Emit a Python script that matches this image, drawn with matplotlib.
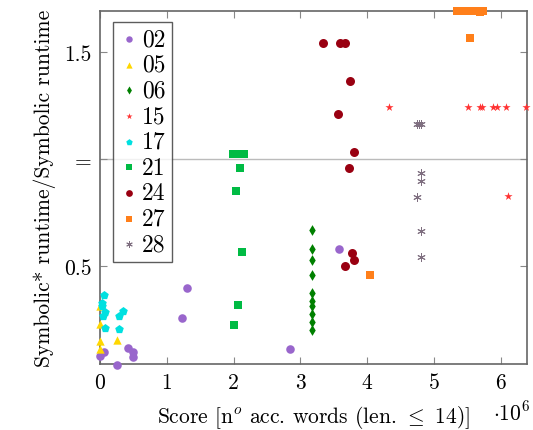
import numpy as np
import matplotlib
matplotlib.use("Agg")
import matplotlib.pyplot as plt

plt.rcParams['font.family'] = 'serif'
plt.rcParams['font.serif'] = ['cmr10', 'DejaVu Serif']
plt.rcParams['mathtext.fontset'] = 'cm'
plt.rcParams['axes.formatter.use_mathtext'] = True

# data (x in millions of words, y = runtime ratio)
x02 = [1.30, 1.23, 2.85, 0.42, 0.49, 0.50, 0.065, 0.0, 0.25, 3.58]
y02 = [0.398, 0.258, 0.115, 0.121, 0.100, 0.076, 0.099, 0.080, 0.041, 0.580]

x05 = [0.0, 0.0, 0.0, 0.0, 0.25]
y05 = [0.317, 0.231, 0.153, 0.114, 0.158]

x06 = [3.18] * 10
y06 = [0.67, 0.58, 0.53, 0.46, 0.376, 0.337, 0.317, 0.277, 0.239, 0.203]

x15 = [4.32, 5.50, 5.69, 5.71, 5.88, 5.94, 6.07, 6.38, 6.10]
y15 = [1.247, 1.247, 1.247, 1.247, 1.247, 1.247, 1.247, 1.247, 0.83]

x17 = [0.065, 0.03, 0.03, 0.075, 0.05, 0.345, 0.28, 0.075, 0.29]
y17 = [0.367, 0.330, 0.317, 0.289, 0.270, 0.290, 0.269, 0.214, 0.206]

x21 = [1.99, 2.03, 2.07, 2.11, 2.15, 2.09, 2.04, 2.12, 2.06, 2.01]
y21 = [1.027, 1.027, 1.027, 1.027, 1.027, 0.962, 0.851, 0.569, 0.320, 0.228]

x24 = [3.34, 3.59, 3.67, 3.74, 3.56, 3.80, 3.72, 3.77, 3.80, 3.66]
y24 = [1.546, 1.546, 1.546, 1.365, 1.211, 1.036, 0.962, 0.562, 0.530, 0.504]

x27 = [5.34, 5.40, 5.46, 5.52, 5.58, 5.63, 5.73, 5.68, 5.54, 4.04]
y27 = [1.694, 1.694, 1.694, 1.694, 1.694, 1.694, 1.694, 1.688, 1.570, 0.459]

x28 = [4.74, 4.77, 4.81, 4.80, 4.80, 4.75, 4.81, 4.80]
y28 = [1.167, 1.167, 1.167, 0.937, 0.900, 0.823, 0.666, 0.543]

series = [
    ("02", x02, y02, 'o', '#9966CC', 38),
    ("05", x05, y05, '^', '#FFD700', 36),
    ("06", x06, y06, 'd', '#008000', 30),
    ("15", x15, y15, '*', '#FF3333', 38),
    ("17", x17, y17, 'p', '#00E0E0', 42),
    ("21", x21, y21, 's', '#00BB44', 38),
    ("24", x24, y24, 'o', '#990011', 42),
    ("27", x27, y27, 's', '#FF7F1A', 40),
    ("28", x28, y28, (6, 2, 0), '#7F6F80', 30),
]

fig = plt.figure(figsize=(5.33, 4.31), dpi=100)
ax = fig.add_axes([0.1876, 0.1531, 0.8011, 0.8191])

ax.axhline(1.0, color='#bbbbbb', lw=1.0, zorder=1)

for name, xs, ys, m, c, s in series:
    ax.scatter(xs, ys, marker=m, s=s, color=c, label=name,
               linewidths=0.7 if m == (6, 2, 0) else 0, zorder=3, clip_on=False)

ax.set_xlim(0, 6.39)
ax.set_ylim(0.044, 1.694)
ax.set_xticks([0, 1, 2, 3, 4, 5, 6])
ax.set_xticklabels(['0', '1', '2', '3', '4', '5', '6'])
ax.set_yticks([0.5, 1.0, 1.5])
ax.set_yticklabels(['0.5', '=', '1.5'])

ax.tick_params(direction='in', top=True, right=True, length=5,
               color='#888888', labelsize=15.5, pad=6)
for sp in ax.spines.values():
    sp.set_color('#666666')
    sp.set_linewidth(1.2)

ax.set_xlabel(r"Score [n$^o$ acc. words (len. $\leq$ 14)]", fontsize=15.5, labelpad=8)
ax.set_ylabel("Symbolic* runtime/Symbolic runtime", fontsize=15.5, labelpad=6)
fig.text(0.995, 0.024, r"$\cdot10^6$", fontsize=15.5, ha='right', va='baseline')

leg = ax.legend(loc='upper left', bbox_to_anchor=(0.03, 0.968), fontsize=17,
                frameon=True, fancybox=False, handletextpad=0.1,
                handlelength=0.9, borderpad=0.25, labelspacing=0.15,
                markerscale=0.75, borderaxespad=0)
leg.get_frame().set_edgecolor('#333333')
leg.get_frame().set_linewidth(1.0)

fig.savefig("out.png", dpi=100)
